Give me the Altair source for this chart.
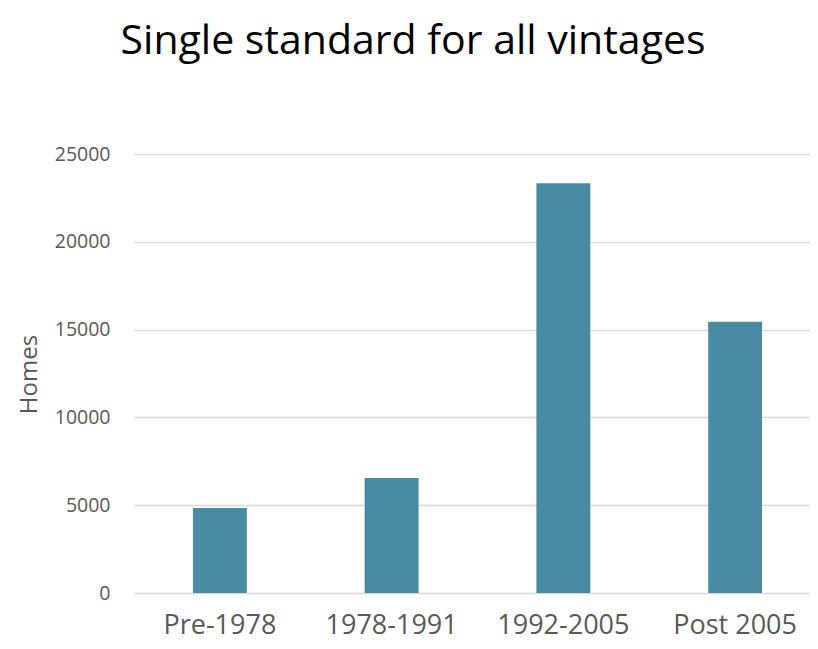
import altair as alt
import pandas as pd

categories = ["Pre-1978", "1978-1991", "1992-2005", "Post 2005"]
homes = [4840, 6550, 23340, 15440]
y_ticks = [0, 5000, 10000, 15000, 20000, 25000]

df = pd.DataFrame({"vintage": categories, "homes": homes})

FONT = "Open Sans"
GRAY = "#595959"

chart = alt.Chart(df).mark_bar(color="#4a8ba4").encode(
    x=alt.X(
        "vintage:N",
        sort=categories,
        scale=alt.Scale(paddingInner=0.686, paddingOuter=0.343, range=[0, 687]),
        axis=alt.Axis(
            title=None,
            labelAngle=0,
            labelFont=FONT,
            labelFontSize=27,
            labelColor=GRAY,
            labelPadding=19,
            ticks=False,
            tickSize=0,
            domain=False,
            grid=False,
        ),
    ),
    y=alt.Y(
        "homes:Q",
        scale=alt.Scale(domain=[0, 25000], nice=False),
        axis=alt.Axis(
            title="Homes",
            values=y_ticks,
            format="d",
            labelFont=FONT,
            labelFontSize=19.5,
            labelColor=GRAY,
            labelPadding=24,
            ticks=False,
            tickSize=0,
            domain=False,
            gridColor="#d9d9d9",
            gridWidth=1.3,
            titleFont=FONT,
            titleFontSize=24,
            titleFontWeight="normal",
            titleColor=GRAY,
            titleAngle=270,
            titleAlign="center",
            titleBaseline="alphabetic",
            titleX=-98,
            titleY=220,
        ),
    ),
).properties(
    width=676,
    height=439,
    title=alt.TitleParams(
        "Single standard for all vintages",
        font=FONT,
        fontSize=41,
        fontWeight="normal",
        color="#000000",
        anchor="middle",
        frame="group",
        baseline="alphabetic",
        offset=0,
        dx=-59,
        dy=-49,
    ),
    autosize=alt.AutoSizeParams(type="none"),
    padding={"left": 126, "top": 146, "right": 0, "bottom": 48},
).configure_view(stroke=None)

chart.save("out.html", embed_options={"renderer": "svg", "actions": False})
